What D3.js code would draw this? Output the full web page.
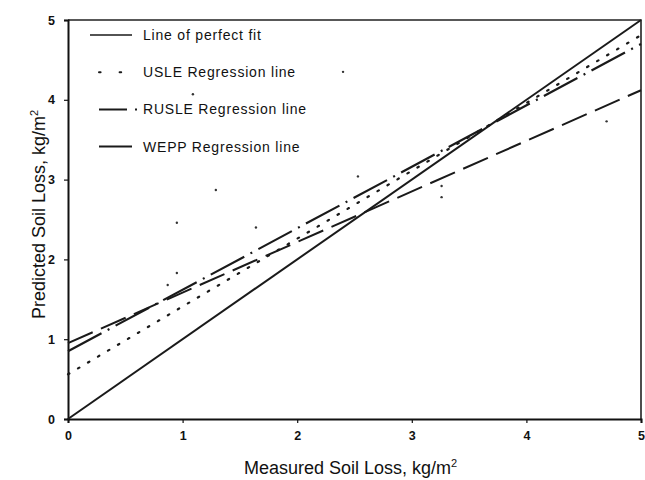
<!DOCTYPE html>
<html>
<head>
<meta charset="utf-8">
<script src="https://cdn.jsdelivr.net/npm/d3@7"></script>
<style>
  body { margin: 0; background: #fff; }
  svg text { font-family: "Liberation Sans", Arial, sans-serif; fill: #111; }
</style>
</head>
<body>
<div id="chart"></div>
<script>
// Regression lines (kg/m2)
var seriesNames = ["Line of perfect fit", "USLE Regression line", "RUSLE Regression line", "WEPP Regression line"];
var intercepts = [0, 0.56, 0.85, 0.95];
var slopes = [1, 0.85, 0.77, 0.634];

// stray points visible on the plot
var pointsX = [0.95, 1.29, 1.64, 2.40, 1.09, 2.53, 3.26, 3.26, 4.70, 0.95, 0.87];
var pointsY = [2.46, 2.87, 2.40, 4.35, 4.07, 3.04, 2.92, 2.78, 3.73, 1.83, 1.68];

var tickValues = [0, 1, 2, 3, 4, 5];
var xMin = 0, xMax = 5;

var fullWidth = 645, fullHeight = 480;
var margin = { top: 20, right: 4, bottom: 61, left: 68 };
var width = fullWidth - margin.left - margin.right;
var height = fullHeight - margin.top - margin.bottom;

var x = d3.scaleLinear().domain([0, 5]).range([0, width]);
var y = d3.scaleLinear().domain([0, 5]).range([height, 0]);

var svg = d3.select("#chart").append("svg")
    .attr("width", fullWidth)
    .attr("height", fullHeight)
    .append("g")
    .attr("transform", "translate(" + margin.left + "," + margin.top + ")");

// frame (top and right)
svg.append("path")
    .attr("d", "M0,0H" + width + "V" + height)
    .attr("fill", "none")
    .attr("stroke", "#222")
    .attr("stroke-width", 1.6);

// axes
var xAxis = svg.append("g")
    .attr("transform", "translate(0," + height + ")")
    .call(d3.axisBottom(x).tickValues(tickValues).tickSize(4).tickPadding(8).tickFormat(d3.format("d")));
var yAxis = svg.append("g")
    .call(d3.axisLeft(y).tickValues(tickValues).tickSize(4).tickPadding(9).tickFormat(d3.format("d")));

[xAxis, yAxis].forEach(function(a) {
    a.select(".domain").attr("stroke", "#111").attr("stroke-width", 2);
    a.selectAll(".tick line").attr("stroke", "#111").attr("stroke-width", 1.2);
    a.selectAll(".tick text")
        .style("font-size", "12.5px")
        .style("font-weight", "bold")
        .style("font-family", "'Liberation Sans', Arial, sans-serif")
        .attr("fill", "#111");
});

// line styles: solid, dotted, dash-dot, long dash
var dashes = [null, "1.6,10", "38,7,2,7", "27,9"];
var widths = [2, 2.2, 2.2, 2];

var lineGen = d3.line()
    .x(function(d) { return x(d[0]); })
    .y(function(d) { return y(d[1]); });

seriesNames.forEach(function(name, i) {
    var pts = [xMin, xMax].map(function(v) { return [v, intercepts[i] + slopes[i] * v]; });
    svg.append("path")
        .datum(pts)
        .attr("d", lineGen)
        .attr("fill", "none")
        .attr("stroke", "#1a1a1a")
        .attr("stroke-width", widths[i])
        .attr("stroke-linecap", i === 1 ? "round" : "butt")
        .attr("stroke-dasharray", dashes[i]);
});

// stray points
svg.selectAll(".pt")
    .data(pointsX.map(function(v, i) { return [v, pointsY[i]]; }))
    .enter().append("circle")
    .attr("class", "pt")
    .attr("cx", function(d) { return x(d[0]); })
    .attr("cy", function(d) { return y(d[1]); })
    .attr("r", 1.2)
    .attr("fill", "#333");

// legend
var legend = svg.append("g").attr("transform", "translate(22,15)");
var legendDash = [null, "1.6,19", "28,8,2,8", null];
var legendItem = legend.selectAll(".legend-item")
    .data(seriesNames)
    .enter().append("g")
    .attr("class", "legend-item")
    .attr("transform", function(d, i) { return "translate(0," + (i * 37.2) + ")"; });

legendItem.append("line")
    .attr("x1", function(d, i) { return i === 0 ? 0 : 9; })
    .attr("x2", function(d, i) { return i === 2 ? 48 : 42; })
    .attr("y1", 0).attr("y2", 0)
    .attr("stroke", "#1a1a1a")
    .attr("stroke-width", function(d, i) { return i === 0 ? 1.4 : 2; })
    .attr("stroke-linecap", function(d, i) { return i === 1 ? "round" : "butt"; })
    .attr("stroke-dasharray", function(d, i) { return legendDash[i]; });

legendItem.append("text")
    .attr("x", 53)
    .attr("y", 0)
    .attr("dy", "0.35em")
    .style("font-size", "14px")
    .style("letter-spacing", "0.8px")
    .text(function(d) { return d; });

// axis titles
svg.append("text")
    .attr("x", width / 2 - 4)
    .attr("y", height + 55)
    .attr("text-anchor", "middle")
    .style("font-size", "18px")
    .html("Measured Soil Loss, kg/m<tspan dy='-7' font-size='11px'>2</tspan>");

svg.append("text")
    .attr("transform", "translate(-23," + (height / 2 - 5) + ") rotate(-90)")
    .attr("text-anchor", "middle")
    .style("font-size", "18px")
    .html("Predicted Soil Loss, kg/m<tspan dy='-7' font-size='11px'>2</tspan>");
</script>
</body>
</html>
